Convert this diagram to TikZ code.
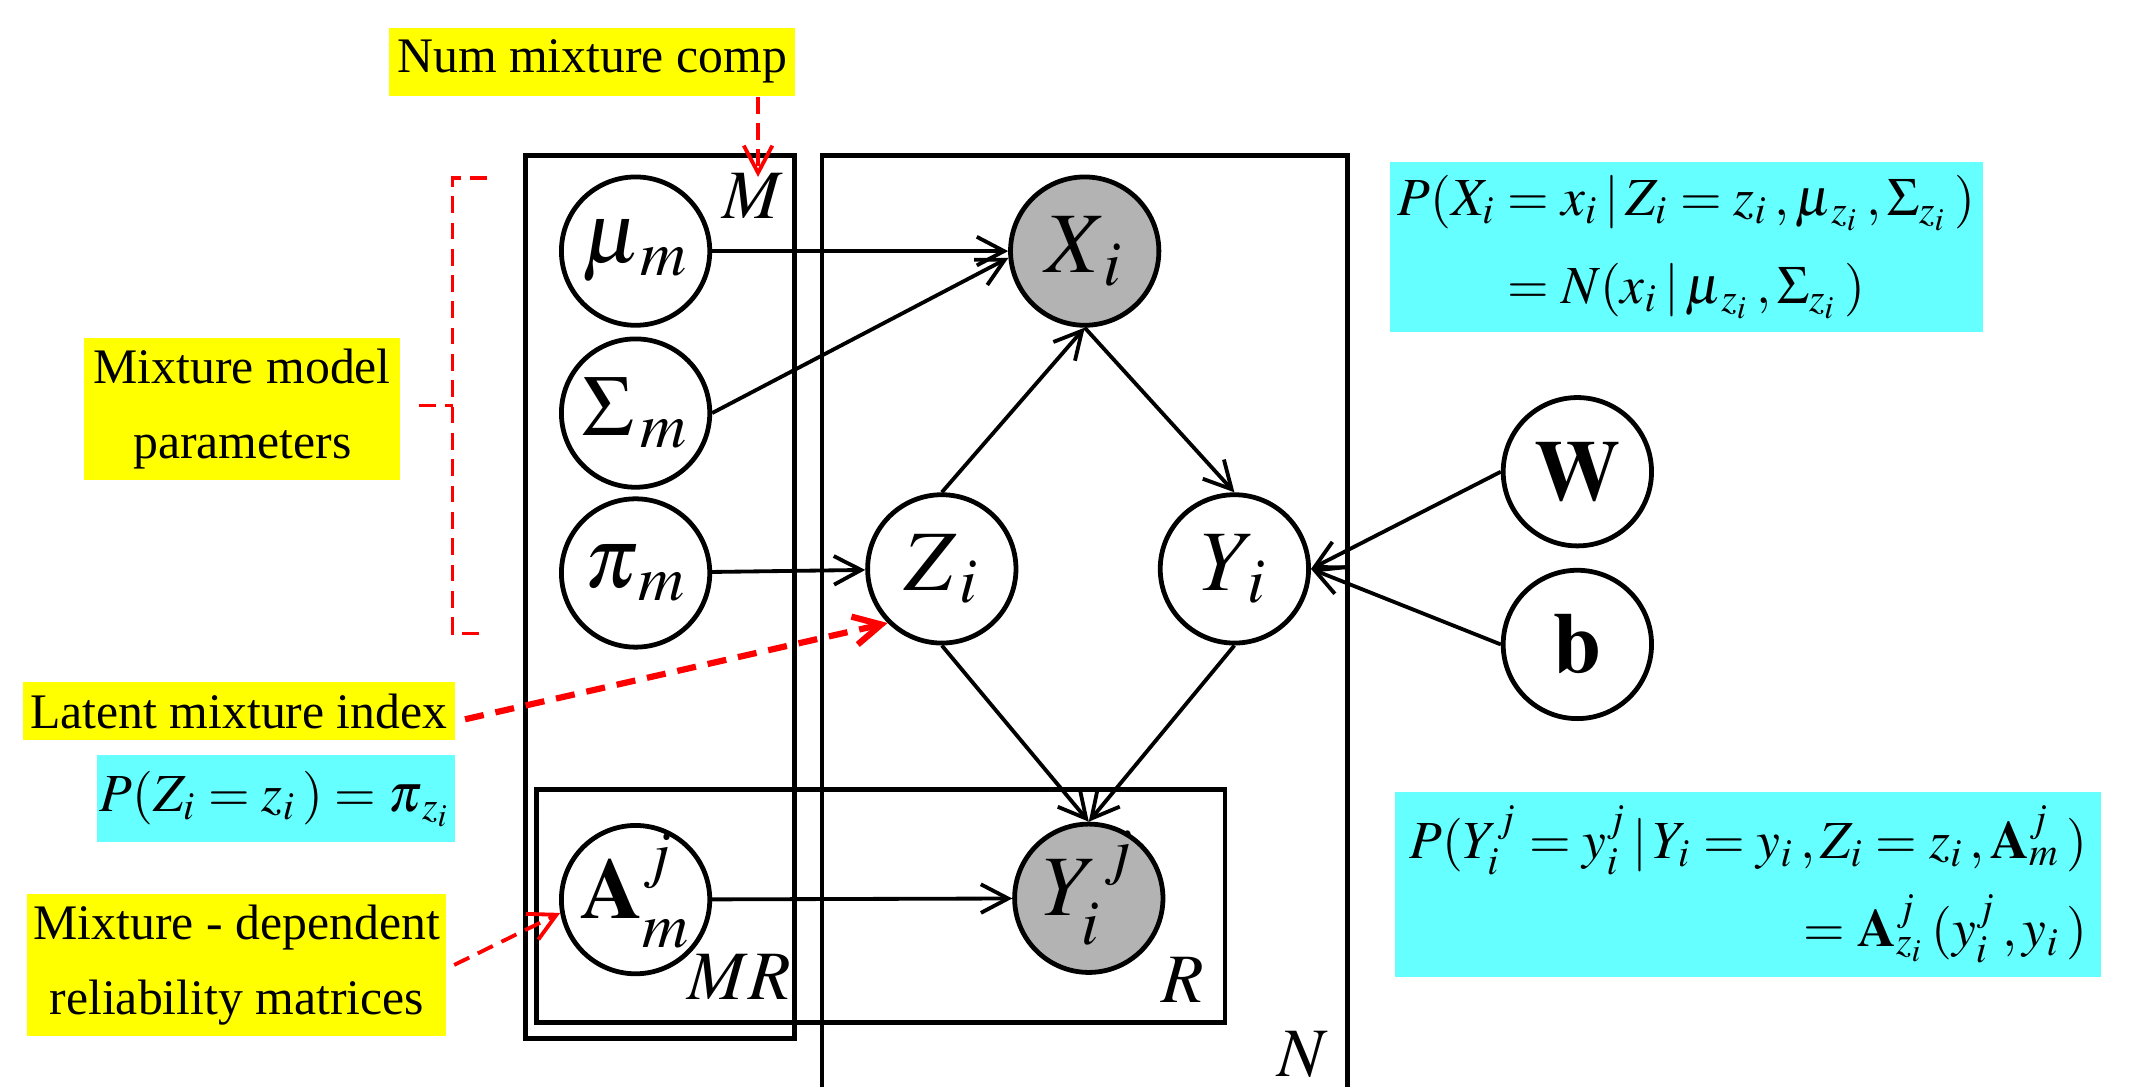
\documentclass[tikz,border=0pt]{standalone}
\usepackage{mathptmx}
\usepackage{fontspec}
\setmainfont{Liberation Serif}
\usetikzlibrary{arrows.meta}
\definecolor{noteyellow}{RGB}{255,255,0}
\definecolor{notecyan}{RGB}{102,255,255}
\definecolor{obsgray}{RGB}{179,179,179}
\newcommand{\stacksub}[3]{#1^{\smash{\raisebox{2.5pt}{$\scriptstyle #3$}}}_{\smash{\raisebox{-1.5pt}{$\scriptstyle #2$}}}}

\begin{document}
\begin{tikzpicture}[>={Straight Barb[length=2mm,width=2.1mm]},
    var/.style={circle, draw, fill=white, line width=1pt, minimum size=1.09cm, inner sep=0pt, font=\fontsize{18}{20}\selectfont},
    obs/.style={var, fill=obsgray},
    plate/.style={draw, line width=1pt},
    edge/.style={->, line width=0.8pt},
    note/.style={fill=noteyellow, inner sep=0pt, align=center, font=\fontsize{10.4}{15.6}\selectfont},
    eqn/.style={fill=notecyan, inner sep=0pt, font=\fontsize{11.2}{18.5}\selectfont},
    ptr/.style={->, red, line width=0.8pt, dash pattern=on 3.5pt off 2pt},
    platelabel/.style={inner sep=0pt, font=\fontsize{14.5}{16}\selectfont}]
    \useasboundingbox (0,0) rectangle (15.68,-7.99);

    % plates
    \draw[plate] (3.86,-1.14) rectangle (5.84,-7.63);
    \draw[plate] (6.04,-7.99) |- (9.90,-1.14) -- (9.90,-7.99);
    \draw[plate] (3.94,-5.80) rectangle (9.00,-7.51);
    \node[platelabel] (labM) at (5.53,-1.44) {$M$};
    \node[platelabel] (labMR) at (5.43,-7.18) {$MR$};
    \node[platelabel] (labR) at (8.69,-7.20) {$R$};
    \node[platelabel] (labN) at (9.57,-7.75) {$N$};

    % variables
    \node[var] (mu) at (4.67,-1.845) {$\mu_{\,m}$};
    \node[var] (Sigma) at (4.67,-3.035) {$\Sigma_{\,m}$};
    \node[var] (pi) at (4.67,-4.21) {$\pi_{\,m}$};
    \node[var] (A) at (4.67,-6.61) {$\stacksub{\mathbf{A}}{m}{j}$};
    \node[obs] (X) at (7.97,-1.845) {$X_{\,i}$};
    \node[var] (Z) at (6.92,-4.18) {$Z_{\,i}$};
    \node[var] (Y) at (9.07,-4.18) {$Y_{\,i}$};
    \node[obs] (Yij) at (8.00,-6.60) {$\stacksub{Y}{i}{\,j}$};
    \node[var] (W) at (11.59,-3.466) {$\mathbf{W}$};
    \node[var] (b) at (11.59,-4.735) {$\mathbf{b}$};

    \draw[edge] (mu) -- (X);
    \draw[edge] (Sigma.east) -- (X.185);
    \draw[edge] (pi) -- (Z);
    \draw[edge] (Z.north) -- (X.south);
    \draw[edge] (X.south) -- (Y.north);
    \draw[edge] (Z.south) -- (Yij.north);
    \draw[edge] (Y.south) -- (Yij.north);
    \draw[edge] (A) -- (Yij);
    \draw[edge] (W.west) -- (Y.east);
    \draw[edge] (b.west) -- (Y.east);

    % annotations
    \node[note, minimum width=2.98cm, minimum height=0.50cm] (numcomp) at (4.35,-0.454) {Num mixture comp};
    \node[note, minimum width=2.32cm, minimum height=1.05cm] (params) at (1.78,-3.005) {Mixture model\\parameters};
    \node[note, minimum width=3.17cm, minimum height=0.43cm] (latent) at (1.755,-5.225) {Latent mixture index};
    \node[note, minimum width=3.08cm, minimum height=1.04cm] (reliab) at (1.74,-7.09) {Mixture - dependent\\reliability matrices};

    \node[eqn, minimum width=2.63cm, minimum height=0.64cm] (pz) at (2.025,-5.87) {$P(Z_i = z_i\,) = \pi_{\,z_i}$};
    \node[eqn, minimum width=4.36cm, minimum height=1.25cm, align=center] (px) at (12.39,-1.815)
        {$P(X_i = x_i \,|\, Z_i = z_i\,, \mu_{\,z_i}\,, \Sigma_{z_i}\,)$\\$= N(x_i \,|\, \mu_{\,z_i}\,, \Sigma_{z_i}\,)$};
    \node[eqn, minimum width=5.19cm, minimum height=1.36cm, align=right] (py) at (12.845,-6.50)
        {$P(Y_i^j = y_i^j \,|\, Y_i = y_i\,, Z_i = z_i\,, \mathbf{A}_m^j\,)$\\$= \mathbf{A}_{z_i}^j\, (y_i^j\,, y_i\,)$};

    \coordinate (Mtip) at (5.57,-1.30);
    \draw[ptr] (numcomp.south -| Mtip) -- (Mtip);
    \draw[red, line width=0.8pt, dash pattern=on 3.5pt off 2pt] (3.58,-1.31) -- (3.325,-1.31) -- (3.325,-4.655) -- (3.53,-4.655);
    \draw[red, line width=0.8pt, dash pattern=on 3.5pt off 2pt] (3.077,-2.98) -- (3.325,-2.98);
    \draw[ptr, line width=1.3pt, dash pattern=on 4pt off 2.5pt] ([shift={(0.07,-0.06)}]latent.east) -- (Z.225);
    \draw[ptr] ([xshift=0.05cm]reliab.east) -- (A.190);
\end{tikzpicture}
\end{document}
